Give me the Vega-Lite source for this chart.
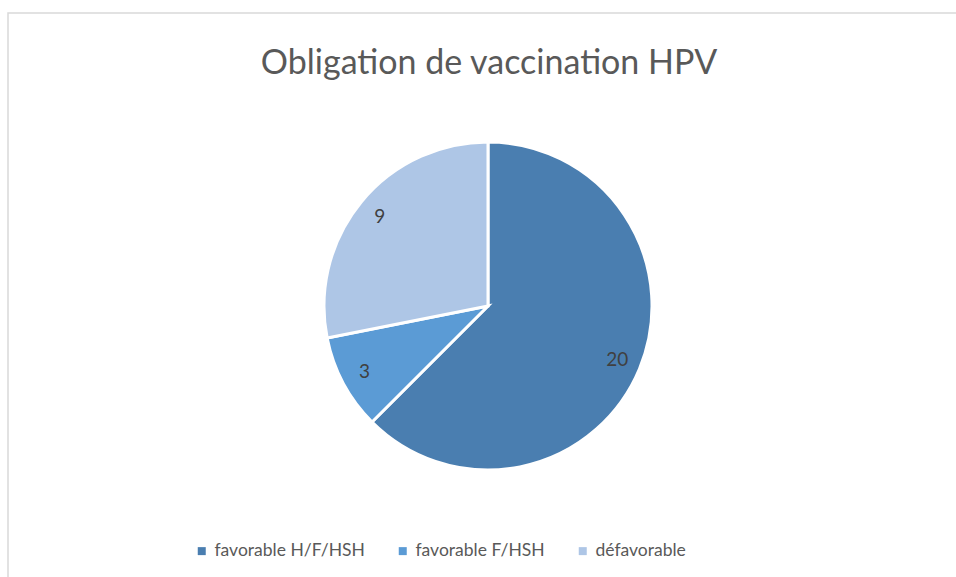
{
  "$schema": "https://vega.github.io/schema/vega-lite/v6.json",
  "autosize": {"type": "fit", "contains": "padding"},
  "width": 956,
  "height": 577,
  "padding": {"left": 8, "top": 13, "right": -12, "bottom": -22},
  "background": "white",
  "view": {"stroke": "#d9d9d9", "strokeWidth": 1.5, "fill": "white"},
  "config": {
    "font": "Lato"
  },
  "title": {
    "text": "Obligation de vaccination HPV",
    "fontSize": 34,
    "font": "Lato",
    "fontWeight": "normal",
    "color": "#595959",
    "anchor": "middle",
    "offset": -68,
    "dx": 1
  },
  "data": {
    "values": [
      {"categorie": "favorable H/F/HSH", "n": 20, "ordre": 1},
      {"categorie": "favorable F/HSH", "n": 3, "ordre": 2},
      {"categorie": "défavorable", "n": 9, "ordre": 3}
    ]
  },
  "encoding": {
    "theta": {"field": "n", "type": "quantitative", "stack": true},
    "order": {"field": "ordre", "type": "quantitative", "sort": "ascending"}
  },
  "layer": [
    {
      "mark": {"type": "arc", "outerRadius": 164, "stroke": "white", "strokeWidth": 3},
      "encoding": {
        "color": {
          "field": "categorie",
          "type": "nominal",
          "sort": ["favorable H/F/HSH", "favorable F/HSH", "défavorable"],
          "scale": {
            "domain": ["favorable H/F/HSH", "favorable F/HSH", "défavorable"],
            "range": ["#4a7eb0", "#5b9bd5", "#aec6e6"]
          },
          "legend": {
            "title": null,
            "orient": "none",
            "direction": "horizontal",
            "legendX": 185,
            "legendY": 529,
            "symbolType": "square",
            "symbolSize": 64,
            "symbolStrokeWidth": 0,
            "labelFontSize": 17.5,
            "labelFont": "Lato",
            "labelColor": "#595959",
            "columnPadding": 29,
            "symbolOffset": 0,
            "labelOffset": 4
          }
        }
      }
    },
    {
      "mark": {"type": "text", "radius": 140, "fontSize": 19, "font": "Lato", "fill": "#404040"},
      "encoding": {
        "text": {"field": "n", "type": "quantitative"}
      }
    }
  ]
}
